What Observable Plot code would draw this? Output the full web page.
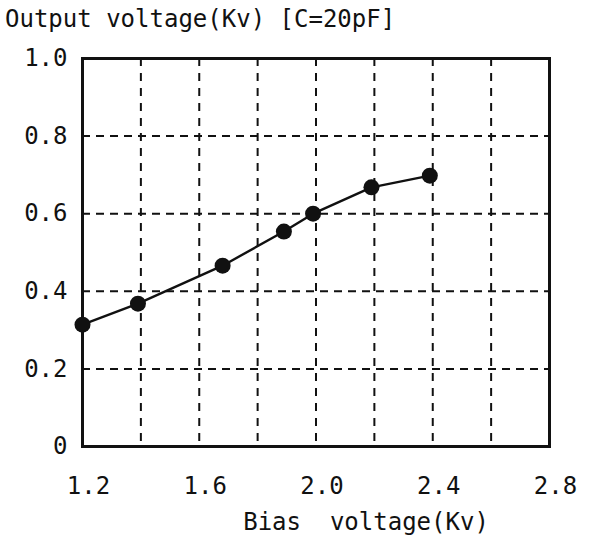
<!DOCTYPE html>
<html>
<head>
<meta charset="utf-8">
<script src="https://cdn.jsdelivr.net/npm/d3@7"></script>
<script src="https://cdn.jsdelivr.net/npm/@observablehq/plot@0.6"></script>
<style>
  body { margin: 0; background: #fff; }
  #wrap { width: 594px; height: 543px; position: relative; font-family: "DejaVu Sans Mono", monospace; }
  #title { position: absolute; left: 5px; top: 4px; font-size: 24px; line-height: 30px; color: #111; white-space: pre; }
  #chart { position: absolute; left: 0; top: 0; }
  #chart svg text { font-size: 24px; font-family: "DejaVu Sans Mono", monospace; }
</style>
</head>
<body>
<div id="wrap">
  <div id="chart"></div>
  <div id="title">Output voltage(Kv) [C=20pF]</div>
</div>
<script>
const biasVoltage = [1.2, 1.39, 1.68, 1.89, 1.99, 2.19, 2.39];
const outputVoltage = [0.314, 0.368, 0.466, 0.554, 0.600, 0.668, 0.698];
const xTicks = [1.2, 1.6, 2.0, 2.4, 2.8];
const xGrid = [1.4, 1.6, 1.8, 2.0, 2.2, 2.4, 2.6];
const yTicks = [0, 0.2, 0.4, 0.6, 0.8, 1.0];
const yGrid = [0.2, 0.4, 0.6, 0.8];
const yLabels = ["0", "0.2", "0.4", "0.6", "0.8", "1.0"];
const xLabels = ["1.2", "1.6", "2.0", "2.4", "2.8"];
const xTitle = "Bias  voltage(Kv)";

const data = biasVoltage.map((x, i) => ({x, y: outputVoltage[i]}));

const chart = Plot.plot({
  width: 594,
  height: 543,
  marginLeft: 82,
  marginRight: 45,
  marginTop: 58,
  marginBottom: 97,
  style: {fontFamily: "DejaVu Sans Mono, monospace", fontSize: "24px", color: "#111", background: "white", overflow: "visible"},
  x: {domain: [1.2, 2.8], label: null},
  y: {domain: [0, 1.0], label: null},
  marks: [
    Plot.ruleX(xGrid, {stroke: "#111", strokeWidth: 2, strokeDasharray: "8,7"}),
    Plot.ruleY(yGrid, {stroke: "#111", strokeWidth: 2, strokeDasharray: "8,6"}),
    Plot.frame({stroke: "#111", strokeWidth: 3}),
    Plot.axisX({ticks: xTicks, tickSize: 0, tickPadding: 30, dx: 6, tickFormat: (d, i) => xLabels[i], label: null}),
    Plot.axisY({ticks: yTicks, tickSize: 0, tickPadding: 15, tickFormat: (d, i) => yLabels[i], label: null}),
    Plot.text([xTitle], {frameAnchor: "bottom", dy: 83, dx: 50, fill: "#111"}),
    Plot.line(data, {x: "x", y: "y", curve: "linear", stroke: "#111", strokeWidth: 2.4}),
    Plot.dot(data, {x: "x", y: "y", r: 8, fill: "#111", stroke: "none"})
  ]
});
document.getElementById("chart").appendChild(chart);
</script>
</body>
</html>
